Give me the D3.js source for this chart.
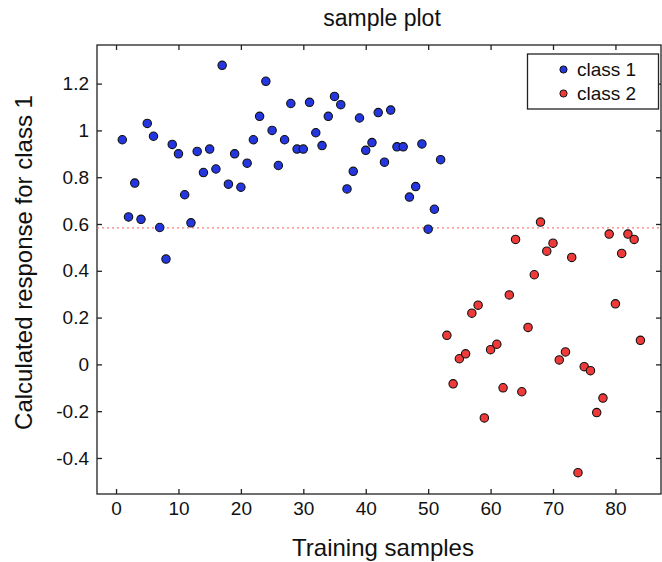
<!DOCTYPE html>
<html>
<head>
<meta charset="utf-8">
<script src="https://cdnjs.cloudflare.com/ajax/libs/d3/7.8.5/d3.min.js"></script>
<style>
  html, body { margin: 0; padding: 0; background: #fff; }
  svg { display: block; font-family: "Liberation Sans", Arial, sans-serif; }
</style>
</head>
<body>
<svg id="chart" width="662" height="562"></svg>
<script>
// ---- data ----
const class1X = [1,2,3,4,5,6,7,8,9,10,11,12,13,14,15,16,17,18,19,20,21,22,23,24,25,26,
  27,28,29,30,31,32,33,34,35,36,37,38,39,40,41,42,43,44,45,46,47,48,49,50,51,52];
const class1Y = [0.96,0.63,0.775,0.62,1.03,0.975,0.585,0.45,0.94,0.9,0.725,0.605,0.91,0.82,
  0.92,0.835,1.278,0.77,0.9,0.757,0.86,0.96,1.06,1.21,1.0,0.85,0.96,1.115,0.92,0.92,1.12,
  0.99,0.935,1.06,1.145,1.11,0.75,0.825,1.053,0.915,0.948,1.076,0.864,1.087,0.93,0.93,
  0.715,0.76,0.942,0.578,0.663,0.875];
const class2X = [53,54,55,56,57,58,59,60,61,62,63,64,65,66,67,68,69,70,71,72,73,74,75,76,
  77,78,79,80,81,82,83,84];
const class2Y = [0.124,-0.083,0.024,0.045,0.219,0.253,-0.229,0.063,0.086,-0.1,0.297,0.534,
  -0.117,0.158,0.383,0.608,0.484,0.518,0.019,0.053,0.457,-0.463,-0.01,-0.027,-0.206,-0.144,
  0.557,0.259,0.474,0.557,0.534,0.103];
const threshold = 0.583;
const xTicks = [0,10,20,30,40,50,60,70,80];
const yTicks = [-0.4,-0.2,0,0.2,0.4,0.6,0.8,1,1.2];
const seriesNames = ["class 1", "class 2"];
const seriesColors = ["#2436e0", "#f03a3a"];
const titleText = "sample plot";
const xLabel = "Training samples";
const yLabel = "Calculated response for class 1";

// ---- layout ----
const L = 97, R = 661, T = 45, B = 494;
const svg = d3.select("#chart");
const x = d3.scaleLinear().domain([-3.05, 87.3]).range([L, R]);
const y = d3.scaleLinear().domain([-0.554, 1.365]).range([B, T]);
const tickLen = 5;
const axisColor = "#222";

// box
svg.append("rect").attr("x", L).attr("y", T).attr("width", R - L).attr("height", B - T)
  .attr("fill", "none").attr("stroke", axisColor).attr("stroke-width", 1.3);

// axes (ticks inward, MATLAB style)
const xAxisB = svg.append("g").attr("transform", `translate(0,${B})`)
  .call(d3.axisBottom(x).tickValues(xTicks).tickSizeInner(-tickLen).tickSizeOuter(0).tickPadding(8)
    .tickFormat(d => String(d)));
const xAxisT = svg.append("g").attr("transform", `translate(0,${T})`)
  .call(d3.axisTop(x).tickValues(xTicks).tickSizeInner(-tickLen).tickSizeOuter(0).tickFormat(""));
const yAxisL = svg.append("g").attr("transform", `translate(${L},0)`)
  .call(d3.axisLeft(y).tickValues(yTicks).tickSizeInner(-tickLen).tickSizeOuter(0).tickPadding(8)
    .tickFormat(d => String(Math.round(d * 10) / 10)));
const yAxisR = svg.append("g").attr("transform", `translate(${R},0)`)
  .call(d3.axisRight(y).tickValues(yTicks).tickSizeInner(-tickLen).tickSizeOuter(0).tickFormat(""));

[xAxisB, xAxisT, yAxisL, yAxisR].forEach(g => {
  g.select(".domain").remove();
  g.selectAll(".tick line").attr("stroke", axisColor).attr("stroke-width", 1.3);
  g.selectAll(".tick text").attr("fill", "#111").style("font-size", "19px")
    .style("font-family", "'Liberation Sans', Arial, sans-serif");
});

// threshold line
svg.append("line").attr("x1", L).attr("x2", R).attr("y1", y(threshold)).attr("y2", y(threshold))
  .attr("stroke", "#ff7a7a").attr("stroke-width", 1.3).attr("stroke-dasharray", "2,3");

// points
const s1 = class1X.map((v, i) => ({x: v, y: class1Y[i]}));
const s2 = class2X.map((v, i) => ({x: v, y: class2Y[i]}));
[s1, s2].forEach((s, k) => {
  svg.append("g").selectAll("circle").data(s).join("circle")
    .attr("cx", d => x(d.x)).attr("cy", d => y(d.y)).attr("r", 4.2)
    .attr("fill", seriesColors[k]).attr("stroke", "#111").attr("stroke-width", 1.1);
});

// legend
const lg = svg.append("g");
lg.append("rect").attr("x", 527.5).attr("y", 54).attr("width", 131).attr("height", 55)
  .attr("fill", "#fff").attr("stroke", axisColor).attr("stroke-width", 1.3);
seriesNames.forEach((n, i) => {
  const cy = 69.5 + i * 24;
  lg.append("circle").attr("cx", 563.5).attr("cy", cy).attr("r", 3.6)
    .attr("fill", seriesColors[i]).attr("stroke", "#111").attr("stroke-width", 1);
  lg.append("text").attr("x", 577).attr("y", cy).attr("dy", "0.35em")
    .style("font-size", "19px").attr("fill", "#111").text(n);
});

// title & labels
svg.append("text").attr("x", 382).attr("y", 26).attr("text-anchor", "middle")
  .style("font-size", "23px").attr("fill", "#111").text(titleText);
svg.append("text").attr("x", 383).attr("y", 556).attr("text-anchor", "middle")
  .style("font-size", "24px").attr("fill", "#111").text(xLabel);
svg.append("text").attr("transform", `translate(32,262.5) rotate(-90)`)
  .attr("text-anchor", "middle").style("font-size", "24px").attr("fill", "#111").text(yLabel);
</script>
</body>
</html>
